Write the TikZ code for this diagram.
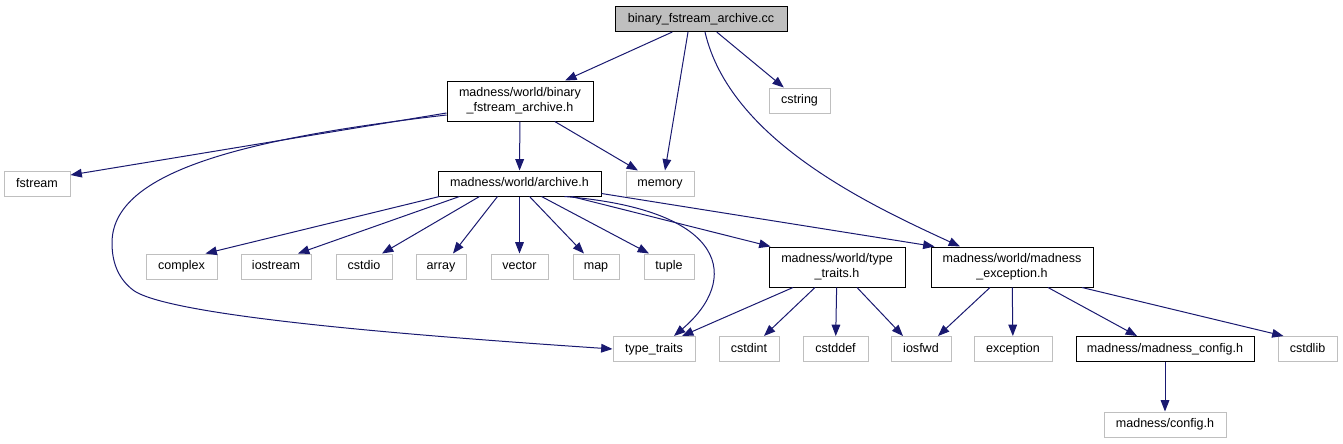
\documentclass[tikz,border=0pt]{standalone}
\usepackage{fontspec}
\setmainfont{Liberation Sans}
\usetikzlibrary{arrows.meta,calc}
\definecolor{edgeblue}{HTML}{191970}
\definecolor{sysgray}{HTML}{BFBFBF}

\begin{document}
\begin{tikzpicture}[x=0.75pt, y=-0.75pt,
    every node/.style={font=\fontsize{9.4}{11.3}\selectfont, inner sep=0pt, align=center, line width=0.75pt},
    oneline/.style={minimum height=18.75pt, text height=6.9pt, text depth=2.1pt},
    file/.style={draw=black, oneline},
    sysfile/.style={draw=sysgray, oneline},
    tall/.style={minimum height=30pt, text height={}, text depth={}},
    root/.style={file, fill=sysgray},
    dep/.style={-{Triangle[length=8.5pt,width=6.5pt]}, color=edgeblue, line width=0.75pt}
]
    \useasboundingbox (0,0) rectangle (1343,443);

    % source file and its direct includes
    \node[root, minimum width=129pt] (cc) at (701,19) {binary\_fstream\_archive.cc};
    \node[file, tall, minimum width=109.5pt] (bfa) at (520,101) {madness/world/binary\\\_fstream\_archive.h};
    \node[sysfile, minimum width=45.75pt] (cstring) at (799.5,100.5) {cstring};

    % second row
    \node[sysfile, minimum width=49.5pt] (fstream) at (37,184) {fstream};
    \node[file, minimum width=122.25pt] (archive) at (519.5,183.5) {madness/world/archive.h};
    \node[sysfile, minimum width=51pt] (memory) at (660,183.5) {memory};

    % third row
    \node[sysfile, minimum width=53.25pt] (complex) at (181.5,266.5) {complex};
    \node[sysfile, minimum width=52.5pt] (iostream) at (276,266.5) {iostream};
    \node[sysfile, minimum width=42pt] (cstdio) at (364,266.5) {cstdio};
    \node[sysfile, minimum width=37.5pt] (array) at (441,266.5) {array};
    \node[sysfile, minimum width=42.75pt] (vector) at (519.5,266.5) {vector};
    \node[sysfile, minimum width=34.5pt] (map) at (596,266.5) {map};
    \node[sysfile, minimum width=37.5pt] (tuple) at (669,266.5) {tuple};
    \node[file, tall, minimum width=102pt] (tth) at (837,267) {madness/world/type\\\_traits.h};
    \node[file, tall, minimum width=121.5pt] (exc) at (1012,267) {madness/world/madness\\\_exception.h};

    % fourth row
    \node[sysfile, minimum width=61.5pt] (typetraits) at (654,349) {type\_traits};
    \node[sysfile, minimum width=45pt] (cstdint) at (749,349) {cstdint};
    \node[sysfile, minimum width=48.75pt] (cstddef) at (835.5,349) {cstddef};
    \node[sysfile, minimum width=45pt] (iosfwd) at (921,349) {iosfwd};
    \node[sysfile, minimum width=58.5pt] (exception) at (1013,349) {exception};
    \node[file, minimum width=133.5pt] (mcfg) at (1165,349) {madness/madness\_config.h};
    \node[sysfile, minimum width=44.25pt] (cstdlib) at (1307.5,349) {cstdlib};

    \node[sysfile, minimum width=91.5pt] (cfg) at (1165,424.5) {madness/config.h};

    % includes of the .cc
    \draw[dep] (cc) -- (bfa);
    \draw[dep] ($(cc.south)+(-13,0)$) -- ($(memory.north)+(5,0)$);
    \draw[dep] (cc) -- (cstring);
    \draw[dep] ($(cc.south)+(4,0)$) .. controls (730,140) and (870,205) .. ($(exc.north)+(-52,0)$);

    % binary_fstream_archive.h
    \draw[dep] ($(bfa.west)+(0,12)$) -- ($(fstream.east)+(0,-9)$);
    \draw[dep] ($(bfa.west)+(0,14)$) .. controls (230,140) and (112,175) .. (112,243)
        .. controls (112,265) and (120,280) .. (133,290)
        .. controls (170,318) and (450,338) .. (typetraits.west);
    \draw[dep] (bfa) -- (archive);
    \draw[dep] (bfa) -- (memory);

    % archive.h
    \draw[dep] ($(archive.south)+(-80,0)$) -- ($(complex.north)+(24,0)$);
    \draw[dep] ($(archive.south)+(-60,0)$) -- ($(iostream.north)+(22,0)$);
    \draw[dep] ($(archive.south)+(-40,0)$) -- ($(cstdio.north)+(18,0)$);
    \draw[dep] ($(archive.south)+(-22,0)$) -- ($(array.north)+(12,0)$);
    \draw[dep] (archive) -- (vector);
    \draw[dep] ($(archive.south)+(10,0)$) -- ($(map.north)+(-12,0)$);
    \draw[dep] ($(archive.south)+(22,0)$) -- ($(tuple.north)+(-20,0)$);
    \draw[dep] ($(archive.south)+(45,0)$) .. controls (730,210) and (740,280) .. ($(typetraits.north)+(20,0)$);
    \draw[dep] ($(archive.south)+(52,0)$) -- ($(tth.north west)+(2,0)$);
    \draw[dep] ($(archive.south east)+(0,-3)$) -- ($(exc.north west)+(4,0)$);

    % type_traits.h
    \draw[dep] ($(tth.south)+(-44,0)$) -- ($(typetraits.north)+(28,0)$);
    \draw[dep] ($(tth.south)+(-22,0)$) -- ($(cstdint.north)+(15,0)$);
    \draw[dep] (tth) -- (cstddef);
    \draw[dep] ($(tth.south)+(20,0)$) -- ($(iosfwd.north)+(-18,0)$);

    % madness_exception.h
    \draw[dep] ($(exc.south)+(-22,0)$) -- ($(iosfwd.north)+(17,0)$);
    \draw[dep] (exc) -- (exception);
    \draw[dep] ($(exc.south)+(36,0)$) -- ($(mcfg.north)+(-28,0)$);
    \draw[dep] ($(exc.south)+(70,0)$) -- ($(cstdlib.north)+(-24,0)$);

    % madness_config.h
    \draw[dep] (mcfg) -- (cfg);
\end{tikzpicture}
\end{document}
